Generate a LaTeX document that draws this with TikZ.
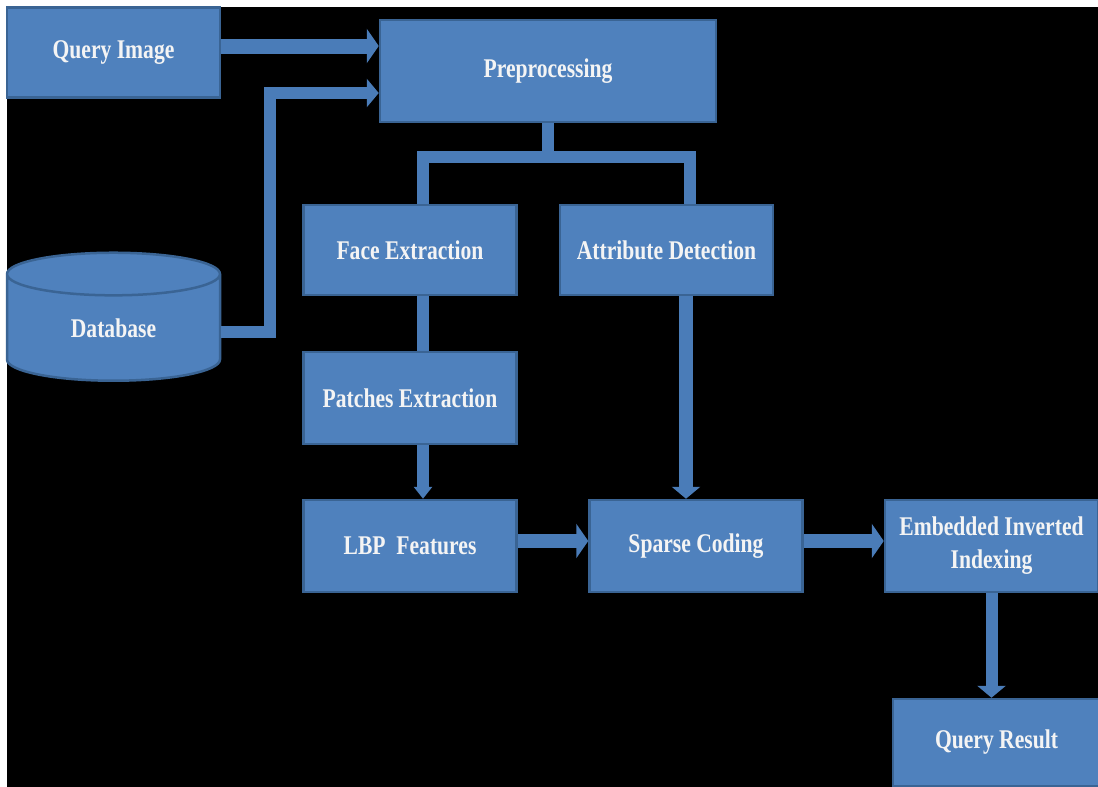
\documentclass[tikz,border=0pt]{standalone}
\usepackage{fontspec}
\setmainfont{Liberation Serif}
\usetikzlibrary{arrows.meta, shapes.geometric}
\definecolor{boxblue}{HTML}{4F81BD}
\definecolor{boxedge}{HTML}{3A6494}
\definecolor{flowblue}{HTML}{4A7CB8}
\definecolor{textwhite}{HTML}{F4F4F4}
\newcommand{\sq}[1]{\scalebox{0.8}[1]{#1}}
\tikzset{
  every picture/.style={x=1pt, y=-1pt},
  stage/.style={rectangle, draw=boxedge, fill=boxblue, line width=2.5pt, text=textwhite,
    align=center, inner sep=0pt, minimum width=213pt, minimum height=90pt,
    font=\bfseries\fontsize{27}{33}\selectfont},
  dbshape/.style={stage, cylinder, shape border rotate=90, aspect=0.5},
  link/.style={draw=flowblue, line width=12pt},
  flow/.style={link, -{Triangle[width=#1, length=12pt]}},
  flow/.default=34pt,
}

\begin{document}
\begin{tikzpicture}
  \useasboundingbox (0,0) rectangle (1098,787);
  \fill[white] (0,0) rectangle (1098,787);
  \fill[black] (7,7) rectangle (1098,787);
  % input side
  \node[stage] (qimg) at (113.5,52.5) {\sq{Query Image}};
  \node[stage, minimum width=336pt, minimum height=102pt] (prep) at (548,71) {\sq{Preprocessing}};
  \node[dbshape, minimum width=213pt, minimum height=128pt] (db) at (113.5,328) {\sq{Database}};
  % two branches
  \node[stage] (face) at (410,250) {\sq{Face Extraction}};
  \node[stage] (attr) at (666.5,250) {\sq{Attribute Detection}};
  \node[stage, minimum height=92pt] (patch) at (410,398) {\sq{Patches Extraction}};
  \node[stage, minimum height=92pt] (lbp) at (410,546) {\sq{LBP~ Features}};
  % output side
  \node[stage, minimum height=92pt] (sparse) at (696,546) {\sq{Sparse Coding}};
  \node[stage, minimum height=92pt] (embed) at (991.5,546) {\sq{Embedded Inverted}\\\sq{Indexing}};
  \node[stage, minimum width=207pt, minimum height=87pt] (qres) at (996.5,742.5) {\sq{Query Result}};
  \coordinate (dbbend) at (270,93);
  \coordinate (split) at (548,157);
  \draw[flow, line width=15pt] ([yshift=6.5pt]qimg.east) -- ([yshift=6.5pt]qimg.east -| prep.west);
  \draw[flow=28pt] ([yshift=-4pt]db.east) -| (dbbend) -- (dbbend -| prep.west);
  \draw[link] (prep.south) -- (split);
  \draw[link] ([xshift=13pt]face.north) |- (split) -| ([xshift=23.5pt]attr.north);
  \draw[link] ([xshift=13pt]face.south) -- ([xshift=13pt]patch.north);
  \draw[flow=18pt] ([xshift=13pt]patch.south) -- ([xshift=13pt]lbp.north);
  \draw[flow=28pt, line width=14pt] ([xshift=19.5pt]attr.south) -- ([xshift=19.5pt]attr.south |- sparse.north);
  \draw[flow, line width=14pt] ([yshift=5pt]lbp.east) -- ([yshift=5pt]lbp.east -| sparse.west);
  \draw[flow, line width=14pt] ([yshift=5pt]sparse.east) -- ([yshift=5pt]sparse.east -| embed.west);
  \draw[flow=28pt] (embed.south) -- (embed.south |- qres.north);
\end{tikzpicture}
\end{document}
